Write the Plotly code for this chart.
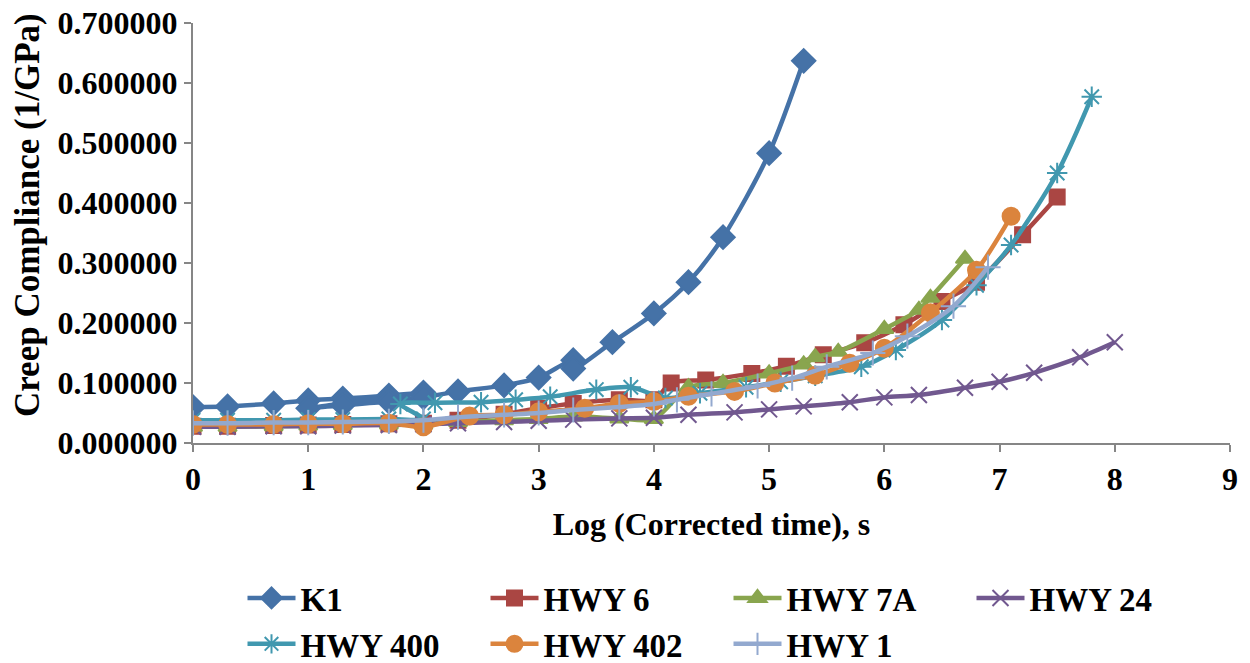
import plotly.graph_objects as go

# ---------------- data ----------------
series_names = ["K1", "HWY 6", "HWY 7A", "HWY 24", "HWY 400", "HWY 402", "HWY 1"]

k1_x = [0, 0.3, 0.7, 1.0, 1.3, 1.7, 2.0,
        1.0, 1.3, 1.7, 2.0, 2.3, 2.7, 3.0, 3.3,
        3.3, 3.64, 4.0, 4.3, 4.6, 5.0, 5.3]
k1_y = [0.060, 0.061, 0.066, 0.071, 0.074, 0.079, 0.084,
        0.058, 0.063, 0.069, 0.076, 0.086, 0.096, 0.109, 0.138,
        0.124, 0.168, 0.216, 0.268, 0.343, 0.483, 0.637]

hwy6_x = [0, 0.3, 0.7, 1.0, 1.3, 1.7, 2.0, 2.3, 2.7, 3.0, 3.3, 3.7, 4.0,
          4.15, 4.45, 4.85, 5.15, 5.47, 5.83, 6.17, 6.5, 6.8, 7.2, 7.5]
hwy6_y = [0.028, 0.028, 0.029, 0.030, 0.031, 0.032, 0.033, 0.038, 0.048, 0.058, 0.066, 0.072, 0.072,
          0.100, 0.105, 0.116, 0.128, 0.147, 0.167, 0.197, 0.236, 0.268, 0.347, 0.410]

hwy7a_x = [0, 0.3, 0.7, 1.0, 1.3, 1.7, 2.0, 2.3, 2.7, 3.0, 3.3, 3.7, 4.0,
           4.3, 4.6, 5.0, 5.3, 5.4, 5.6, 6.0, 6.3, 6.4, 6.7]
hwy7a_y = [0.027, 0.027, 0.028, 0.029, 0.030, 0.031, 0.031, 0.035, 0.038, 0.040, 0.044, 0.041, 0.040,
           0.093, 0.100, 0.116, 0.131, 0.143, 0.152, 0.190, 0.222, 0.242, 0.307]

hwy24_x = [0, 0.3, 0.7, 1.0, 1.3, 1.7, 2.0, 2.3, 2.7, 3.0, 3.3, 3.7, 4.0,
           4.3, 4.7, 5.0, 5.3, 5.7, 6.0, 6.3, 6.7, 7.0, 7.3, 7.7, 8.0]
hwy24_y = [0.027, 0.027, 0.028, 0.028, 0.029, 0.030, 0.031, 0.033, 0.035, 0.037, 0.039, 0.041, 0.042,
           0.047, 0.051, 0.056, 0.061, 0.068, 0.076, 0.080, 0.092, 0.102, 0.117, 0.143, 0.168]

hwy400_x = [0, 0.3, 0.7, 1.0, 1.3, 1.7, 2.0,
            1.8, 2.1, 2.5, 2.8, 3.1, 3.5, 3.8,
            4.1, 4.4, 4.8, 5.1, 5.4, 5.8, 6.1, 6.5, 6.8, 7.1, 7.5, 7.8]
hwy400_y = [0.038, 0.038, 0.038, 0.039, 0.039, 0.040, 0.040,
            0.065, 0.067, 0.068, 0.072, 0.077, 0.089, 0.093,
            0.075, 0.083, 0.093, 0.102, 0.112, 0.127, 0.155, 0.205, 0.263, 0.330, 0.450, 0.577]

hwy402_x = [0, 0.3, 0.7, 1.0, 1.3, 1.7, 2.0, 2.4, 2.7, 3.0, 3.4, 3.7, 4.0,
            4.3, 4.7, 5.05, 5.4, 5.7, 6.0, 6.4, 6.8, 7.1]
hwy402_y = [0.031, 0.031, 0.031, 0.032, 0.032, 0.033, 0.027, 0.045, 0.047, 0.052, 0.058, 0.066, 0.069,
            0.078, 0.086, 0.100, 0.113, 0.133, 0.158, 0.217, 0.288, 0.378]

hwy1_x = [0, 0.3, 0.7, 1.0, 1.3, 1.7, 2.0, 2.3, 2.7, 3.0, 3.3, 3.7, 4.0,
          4.2, 4.5, 4.9, 5.2, 5.5, 5.9, 6.2, 6.6, 6.9]
hwy1_y = [0.033, 0.033, 0.034, 0.034, 0.035, 0.036, 0.038, 0.043, 0.047, 0.050, 0.055, 0.060, 0.065,
          0.072, 0.082, 0.095, 0.108, 0.127, 0.150, 0.178, 0.228, 0.293]

x_ticks = [0, 1, 2, 3, 4, 5, 6, 7, 8, 9]
y_ticks = [0.0, 0.1, 0.2, 0.3, 0.4, 0.5, 0.6, 0.7]

# ---------------- styling ----------------
colors = ["#4572A7", "#AA4643", "#89A54E", "#71588F", "#4198AF", "#DB843D", "#93A9CF"]
symbols = ["diamond", "square", "triangle-up", "x-thin-open", "asterisk-open", "circle", "cross-thin-open"]
msizes = [18, 15, 16, 16, 17, 17, 18]

xs = [k1_x, hwy6_x, hwy7a_x, hwy24_x, hwy400_x, hwy402_x, hwy1_x]
ys = [k1_y, hwy6_y, hwy7a_y, hwy24_y, hwy400_y, hwy402_y, hwy1_y]

FONT = "Liberation Serif, Times New Roman, serif"

fig = go.Figure()
for name, x, y, c, s, ms in zip(series_names, xs, ys, colors, symbols, msizes):
    fig.add_trace(go.Scatter(
        x=x, y=y, name=name, mode="lines+markers",
        line=dict(color=c, width=4.5, shape="spline", smoothing=0.8),
        marker=dict(symbol=s, size=ms, color=c, line=dict(color=c, width=2)),
    ))

axis_color = "#868686"
W, H = 1250, 663
fig.update_layout(
    width=W, height=H,
    paper_bgcolor="white", plot_bgcolor="white",
    margin=dict(l=193, r=20, t=23, b=220, autoexpand=False),
    font=dict(family=FONT, size=32, color="black", weight="bold"),
    showlegend=True,
    legend=dict(
        orientation="h", xref="container", x=0.194, xanchor="left",
        yref="container", y=0.1403, yanchor="top",
        entrywidth=180, entrywidthmode="pixels", itemwidth=48,
        font=dict(family=FONT, size=33, color="black", weight="bold"),
        bgcolor="rgba(0,0,0,0)", traceorder="normal",
    ),
    xaxis=dict(
        range=[0, 9], tickvals=x_ticks, ticktext=[str(v) for v in x_ticks],
        showgrid=False, zeroline=False, showline=True, linecolor=axis_color, linewidth=2,
        ticks="outside", ticklen=7, tickwidth=2, tickcolor=axis_color, automargin=False,
        ticklabeloverflow="allow",
        title=dict(text="Log (Corrected time), s", font=dict(size=32, weight="bold"), standoff=16),
        tickfont=dict(size=32, weight="bold"),
    ),
    yaxis=dict(
        range=[0, 0.7], tickvals=y_ticks, ticktext=[f"{v:.6f}" for v in y_ticks],
        showgrid=False, zeroline=False, showline=True, linecolor=axis_color, linewidth=2,
        ticks="outside", ticklen=7, tickwidth=2, tickcolor=axis_color, automargin=False,
        ticklabeloverflow="allow",
        tickfont=dict(size=32, weight="bold"),
    ),
    annotations=[dict(
        text="Creep Compliance (1/GPa)", textangle=-90, showarrow=False,
        xref="paper", yref="paper", x=-0.159, y=0.543, xanchor="center", yanchor="middle",
        font=dict(family=FONT, size=35, color="black", weight="bold"),
    )],
)

fig.write_html(
    "out.html",
    config={"displayModeBar": False},
    post_script="document.body.style.margin='0';document.body.style.overflow='hidden';",
)
